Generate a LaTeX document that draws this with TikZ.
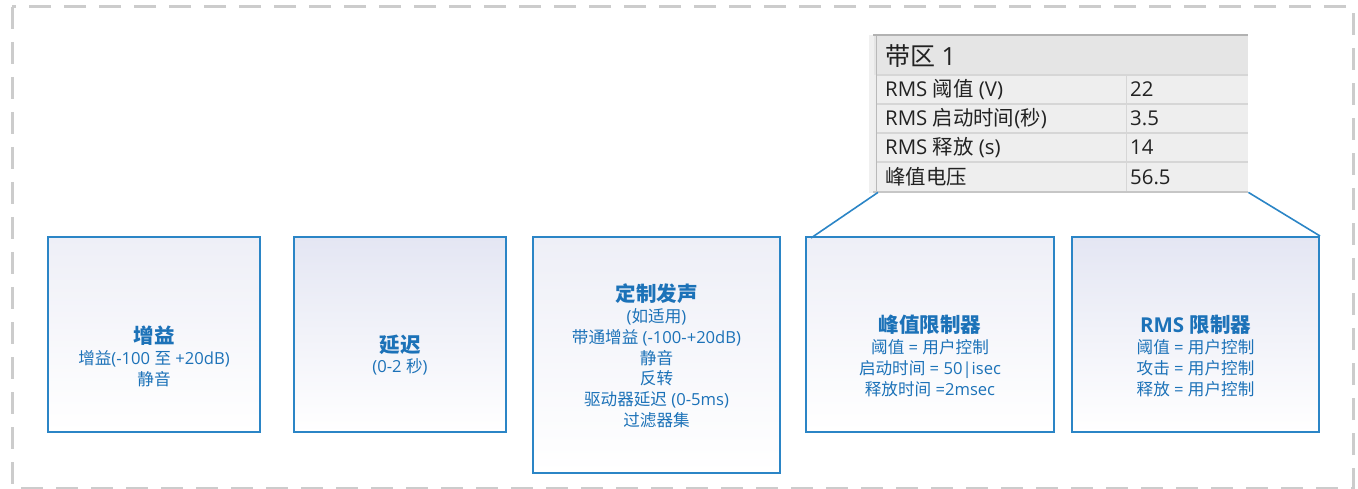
\documentclass[tikz,border=0pt]{standalone}
\usepackage{fontspec}
\setmainfont{Open Sans}
\newfontfamily\cjkf{Noto Sans CJK SC}
\XeTeXinterchartokenstate=1
\newXeTeXintercharclass\CJKcls
\newcount\cjkc
\cjkc="4E00
\loop
  \XeTeXcharclass\cjkc=\CJKcls
  \advance\cjkc by 1
\ifnum\cjkc<"A000 \repeat
\XeTeXinterchartoks 0 \CJKcls={\cjkf}
\XeTeXinterchartoks 4095 \CJKcls={\cjkf}
\XeTeXinterchartoks \CJKcls 0={\rmfamily}
\XeTeXinterchartoks \CJKcls 4095={\rmfamily}
\definecolor{boxblue}{HTML}{2B85C6}
\definecolor{txtblue}{HTML}{1C72B8}
\definecolor{lav}{HTML}{E4E6F3}
\definecolor{lavlight}{HTML}{EEEFF7}
\definecolor{dashgray}{HTML}{CCCCCC}
\definecolor{hdrgray}{HTML}{E5E5E5}
\definecolor{rowgray}{HTML}{EEEEEE}
\definecolor{sepgray}{HTML}{D6D6D6}
\definecolor{tbltext}{HTML}{222222}
\newcommand\ttlf{\fontsize{20.5}{21.5}\selectfont\bfseries}
\begin{document}
\begin{tikzpicture}[x=1pt,y=-1pt,
  box/.style={draw=boxblue, line width=2pt, top color=lav, bottom color=white, inner sep=0pt},
  lbl/.style={text=txtblue, font=\fontsize{16.6}{20.8}\selectfont, align=center, inner sep=0pt},
  cell/.style={text=tbltext, font=\fontsize{20.4}{21}\selectfont, anchor=west, inner sep=0pt},
  link/.style={draw=boxblue, line width=1.6pt}]
\useasboundingbox (0,0) rectangle (1358,489);
% dashed frame
\draw[dashgray, line width=3pt, dash pattern=on 22pt off 13pt] (12,7) rectangle (1353,488);

% boxes
\node[box, top color=lavlight, minimum width=212pt, minimum height=195pt] (b1) at (154,334.5) {};
\node[box, minimum width=212pt, minimum height=195pt] (b2) at (400,334.5) {};
\node[box, top color=lavlight, minimum width=247pt, minimum height=236pt] (b3) at (656.5,355) {};
\node[box, top color=lavlight, minimum width=248pt, minimum height=195pt] (b4) at (930,334.5) {};
\node[box, minimum width=247pt, minimum height=195pt] (b5) at (1195.5,334.5) {};

% texts
\node[lbl] (t1) at (154,356.5) {{\ttlf 增益}\\增益(-100 至 +20dB)\\静音};
\node[lbl] (t2) at (400,355) {{\ttlf 延迟}\\(0-2 秒)};
\node[lbl] (t3) at (656.5,356) {{\ttlf 定制发声}\\(如适用)\\带通增益 (-100-+20dB)\\静音\\反转\\驱动器延迟 (0-5ms)\\过滤器集};
\node[lbl] (t4) at (930,356) {{\ttlf 峰值限制器}\\阈值 = 用户控制\\启动时间 = 50|isec\\释放时间 =2msec};
\node[lbl] (t5) at (1195.5,356) {{\ttlf RMS 限制器}\\阈值 = 用户控制\\攻击 = 用户控制\\释放 = 用户控制};

% table
\node[fill=rowgray, minimum width=375pt, minimum height=157pt, anchor=north west, inner sep=0pt] (tbl) at (873,35) {};
\fill[hdrgray] (873,35) rectangle (1248,75);
\fill[gray!12] (869,35) rectangle (874,193);
\draw[gray!55, line width=1pt] (876.5,35) -- (876.5,192);
\draw[gray!60, line width=1.5pt] (873,35) -- (1248,35);
\foreach \yy in {75,104,133,162} \draw[sepgray, line width=1.5pt] (876.5,\yy) -- (1248,\yy);
\draw[sepgray, line width=1.5pt] (1126.5,75) -- (1126.5,192);
\draw[gray!45, line width=1.5pt] (873,192) -- (1248,192);
\node[cell, font=\fontsize{25}{26}\selectfont] (h) at (885,56) {带区 1};
\node[cell] (r1a) at (885,89.5) {RMS 阈值 (V)};
\node[cell] (r1b) at (1130,89.5) {22};
\node[cell] (r2a) at (885,118.5) {RMS 启动时间(秒)};
\node[cell] (r2b) at (1130,118.5) {3.5};
\node[cell] (r3a) at (885,147.5) {RMS 释放 (s)};
\node[cell] (r3b) at (1130,147.5) {14};
\node[cell] (r4a) at (885,177) {峰值电压};
\node[cell] (r4b) at (1130,177) {56.5};

% connectors
\draw[link] ([xshift=5pt]tbl.south west) -- ([xshift=6pt,yshift=-2pt]b4.north west);
\draw[link] (tbl.south east) -- (b5.north east);
\end{tikzpicture}
\end{document}
